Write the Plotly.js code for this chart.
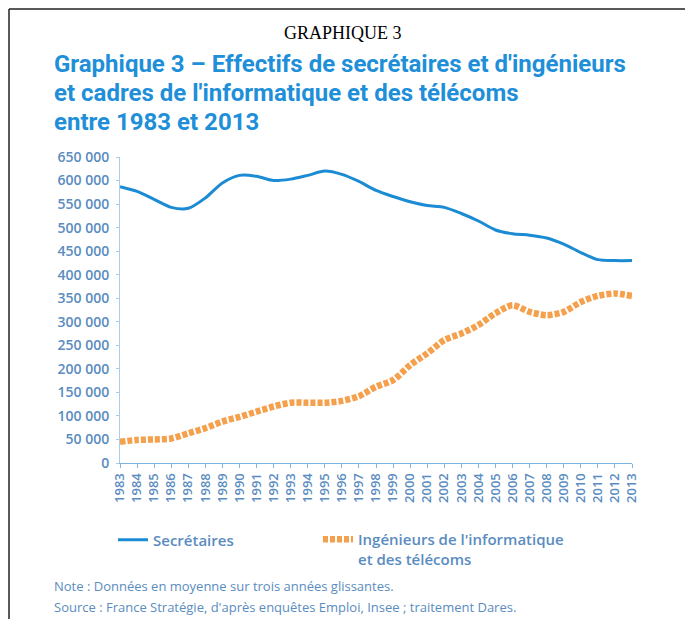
<!DOCTYPE html>
<html>
<head>
<meta charset="utf-8">
<script src="https://cdn.plot.ly/plotly-3.0.1.min.js"></script>
<style>
html,body{margin:0;padding:0;background:#fff;}
#chart{width:685px;height:619px;}
</style>
</head>
<body>
<div id="chart"></div>
<script>
// ---- Data ----
const years = [1983,1984,1985,1986,1987,1988,1989,1990,1991,1992,1993,1994,1995,1996,1997,1998,1999,2000,2001,2002,2003,2004,2005,2006,2007,2008,2009,2010,2011,2012,2013];
const yearLabels = years.map(String);
const secretaires = [587000,577000,560000,543000,541000,563000,595000,611000,609000,600000,603000,611000,620000,613000,598000,579000,566000,555000,547000,543000,530000,514000,495000,487000,484000,478000,465000,447000,432000,430000,430000];
const ingenieurs = [45000,49000,50000,52000,63000,74000,88000,98000,109000,120000,128000,128000,128000,132000,142000,162000,176000,208000,233000,261000,275000,293000,318000,335000,321000,314000,321000,342000,355000,360000,355000];
const yTickVals = [0,50000,100000,150000,200000,250000,300000,350000,400000,450000,500000,550000,600000,650000];
const yTickText = ["0","50 000","100 000","150 000","200 000","250 000","300 000","350 000","400 000","450 000","500 000","550 000","600 000","650 000"];
const seriesNames = ["Secrétaires","Ingénieurs de l'informatique<br>et des télécoms"];
const headerText = "GRAPHIQUE 3";
const titleLines = ["Graphique 3 – Effectifs de secrétaires et d'ingénieurs","et cadres de l'informatique et des télécoms","entre 1983 et 2013"];
const noteLines = ["Note : Données en moyenne sur trois années glissantes.","Source : France Stratégie, d'après enquêtes Emploi, Insee ; traitement Dares."];

// ---- Layout helpers (pixel -> paper) ----
const W=685, H=619, L=120, R=632, T=157, B=463;
const px = p => (p-L)/(R-L);
const py = p => (B-p)/(B-T);

const blue = "#1b8bd3", orange = "#f4a04c", txt = "#5a8cc0";

const traces = [
  {x: years, y: secretaires, name: seriesNames[0], type: "scatter", mode: "lines",
   line: {color: blue, width: 3, shape: "spline", smoothing: 0.8}, legend: "legend"},
  {x: years, y: ingenieurs, name: seriesNames[1], type: "scatter", mode: "lines",
   line: {color: orange, width: 6.5, shape: "spline", smoothing: 0.8, dash: "5px,2px"}, legend: "legend2"}
];

const annotations = [
  {text: headerText, x: px(343), y: py(33), xref: "paper", yref: "paper", xanchor: "center", yanchor: "middle", showarrow: false,
   font: {family: "Liberation Serif, Times New Roman, serif", size: 18, color: "#000"}}
];
titleLines.forEach((t,i) => annotations.push({text: "<b>"+t+"</b>", x: px(52), y: py(64+29*i), xref: "paper", yref: "paper",
  xanchor: "left", yanchor: "middle", showarrow: false, font: {family: "Roboto, sans-serif", size: 24, color: "#1e8fd8"}}));
noteLines.forEach((t,i) => annotations.push({text: t, x: px(52), y: py(586+21*i), xref: "paper", yref: "paper",
  xanchor: "left", yanchor: "middle", showarrow: false, font: {family: "Open Sans, sans-serif", size: 13, color: txt}}));

const shapes = [
  {type: "line", xref: "paper", yref: "paper", x0: px(9), x1: px(W), y0: py(9), y1: py(9), line: {color: "#222", width: 1.5}},
  {type: "line", xref: "paper", yref: "paper", x0: px(9), x1: px(9), y0: py(9), y1: py(H), line: {color: "#222", width: 1.5}}
];

const layout = {
  width: W, height: H,
  margin: {l: L, r: W-R, t: T, b: H-B, pad: 0},
  paper_bgcolor: "#fff", plot_bgcolor: "#fff",
  showlegend: true,
  xaxis: {range: [1983, 2013], tickvals: years, ticktext: yearLabels, tickangle: -90,
    showgrid: false, zeroline: false, showline: true, linecolor: "#7fb5de", linewidth: 1,
    ticks: "outside", ticklen: 4, tickcolor: "#7fb5de",
    tickfont: {family: "Open Sans, sans-serif", size: 13, weight: 600, color: txt}},
  yaxis: {range: [0, 650000], tickvals: yTickVals, ticktext: yTickText,
    showgrid: false, zeroline: false, showline: true, linecolor: "#a9cdea", linewidth: 1,
    ticks: "outside", ticklen: 3, tickcolor: "#a9cdea", ticklabelstandoff: 4,
    tickfont: {family: "Open Sans, sans-serif", size: 14, weight: 600, color: txt}},
  legend: {x: px(113), y: py(540), xanchor: "left", yanchor: "middle", bgcolor: "rgba(0,0,0,0)",
    font: {family: "Open Sans, sans-serif", size: 15, weight: 600, color: txt}},
  legend2: {x: px(318), y: py(523), xanchor: "left", yanchor: "top", valign: "top", bgcolor: "rgba(0,0,0,0)",
    font: {family: "Open Sans, sans-serif", size: 15, weight: 600, color: txt}},
  annotations: annotations,
  shapes: shapes
};

Plotly.newPlot("chart", traces, layout, {displayModeBar: false, staticPlot: true});
</script>
</body>
</html>
